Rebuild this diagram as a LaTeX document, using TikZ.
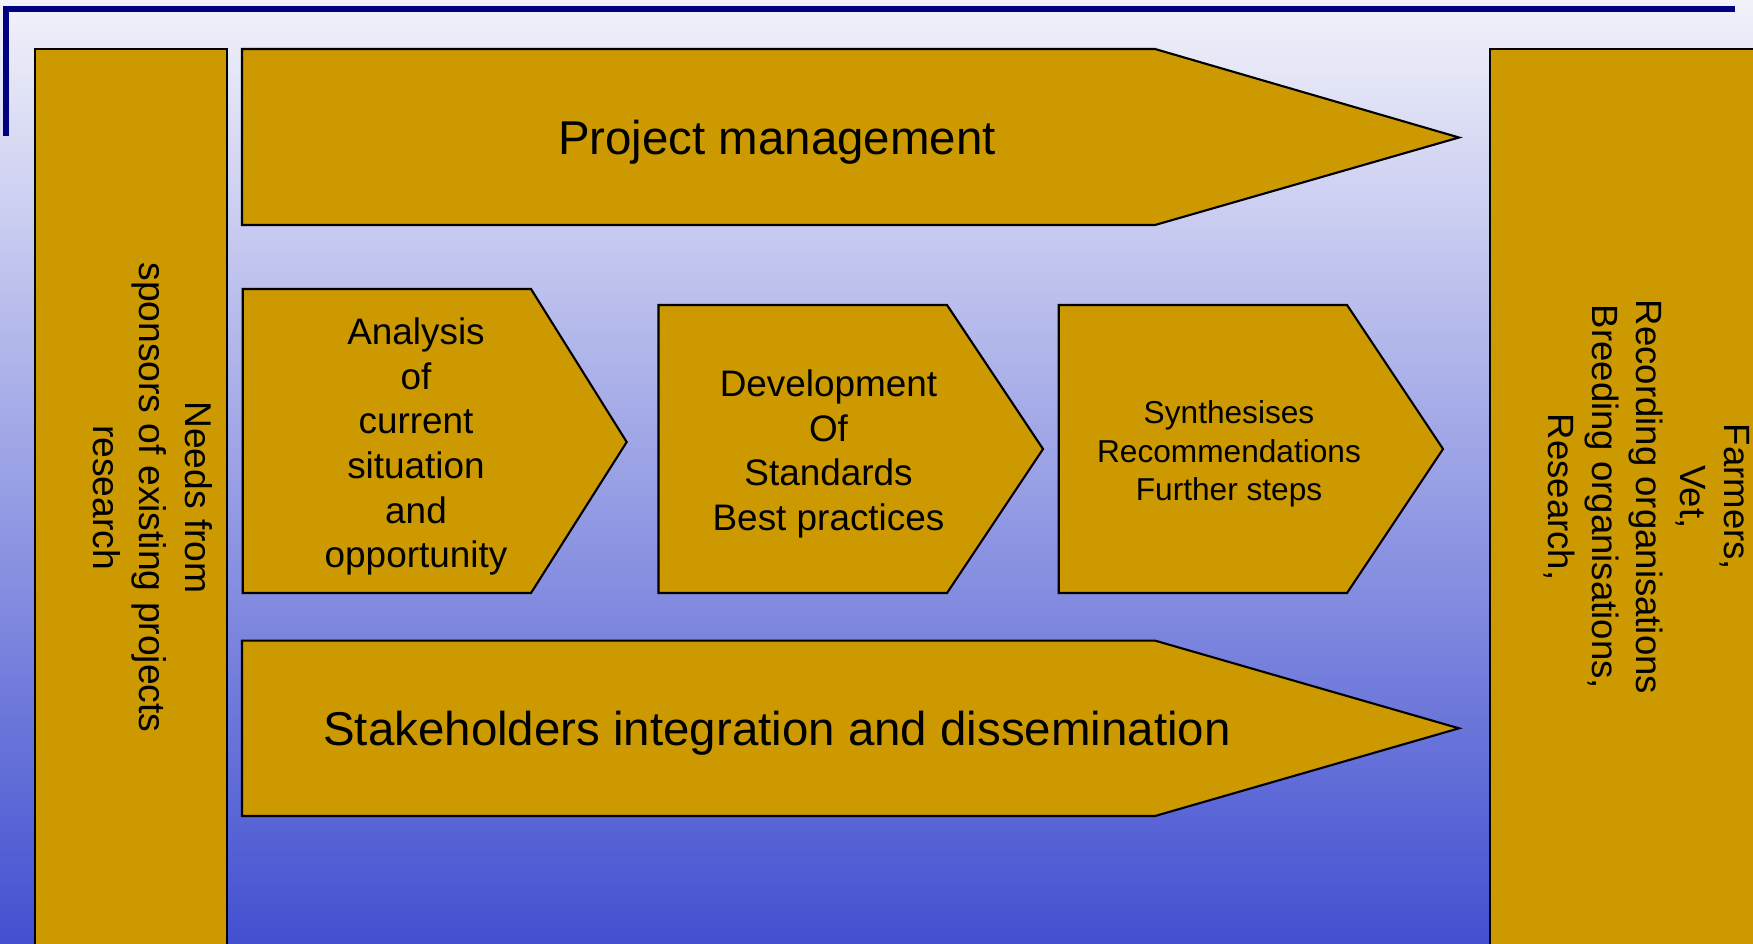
\documentclass[tikz,border=0pt]{standalone}
\usepackage{fontspec}
\setmainfont{Liberation Sans}
\definecolor{gold}{HTML}{CC9900}
\definecolor{frameblue}{HTML}{000080}
\definecolor{bgtop}{HTML}{F2F2FA}
\definecolor{bgmid}{HTML}{A8ACE2}
\definecolor{bgbottom}{HTML}{4250D0}
\tikzset{
  box/.style={fill=gold, draw=black, line width=0.6pt},
  big/.style={font=\fontsize{13.5}{16}\selectfont},
  mid/.style={align=center, font=\fontsize{10.5}{12.7}\selectfont},
}
\begin{document}
\begin{tikzpicture}
  \useasboundingbox (0,0) rectangle (17.53,9.43);
  \clip (0,0) rectangle (17.53,9.43);
  \shade[top color=bgtop, middle color=bgmid, bottom color=bgbottom] (0,0) rectangle (17.53,9.43); %背景
  \draw[frameblue, line width=0.06cm]  (0.06,8.07) -- (0.06,9.34) -- (17.35,9.34); %上の枠線

  \draw[box]  (0.346,-0.1) rectangle (2.27,8.94); %左の長方形
  \draw[box]  (14.90,-0.1) rectangle (17.7,8.94); %右の長方形

  \draw[box]  (2.42,8.94) -- (11.55,8.94) -- (14.59,8.055) -- (11.55,7.18) -- (2.42,7.18) -- cycle; %上の矢印
  \draw[box]  (2.42,3.024) -- (11.55,3.024) -- (14.59,2.147) -- (11.55,1.27) -- (2.42,1.27) -- cycle; %下の矢印

  \draw[box]  (2.427,6.54) -- (5.31,6.54) -- (6.267,5.01) -- (5.31,3.50) -- (2.427,3.50) -- cycle;
  \draw[box]  (6.585,6.38) -- (9.47,6.38) -- (10.43,4.94) -- (9.47,3.50) -- (6.585,3.50) -- cycle;
  \draw[box]  (10.587,6.38) -- (13.47,6.38) -- (14.43,4.94) -- (13.47,3.50) -- (10.587,3.50) -- cycle; %中央の三つの矢印

  \node[big] (pm) at (7.77,8.01) {Project management};
  \node[big] (sd) at (7.77,2.10) {Stakeholders integration and dissemination};
  \node[mid] (an) at (4.16,4.965) {Analysis\\of\\current\\situation\\and\\opportunity};
  \node[mid] (dv) at (8.285,4.89) {Development\\Of\\Standards\\Best practices};
  \node[align=center, font=\fontsize{9}{11}\selectfont] (sy) at (12.29,4.89) {Synthesises\\Recommendations\\Further steps};
  \node[mid, rotate=-90, font=\fontsize{10.6}{13}\selectfont] (needs) at (1.53,4.455) {Needs from\\sponsors of existing projects\\research};
  \node[mid, rotate=-90, font=\fontsize{10.4}{12.5}\selectfont] (users) at (16.47,4.46) {Farmers,\\Vet,\\Recording organisations\\Breeding organisations,\\Research,};
\end{tikzpicture}
\end{document}
